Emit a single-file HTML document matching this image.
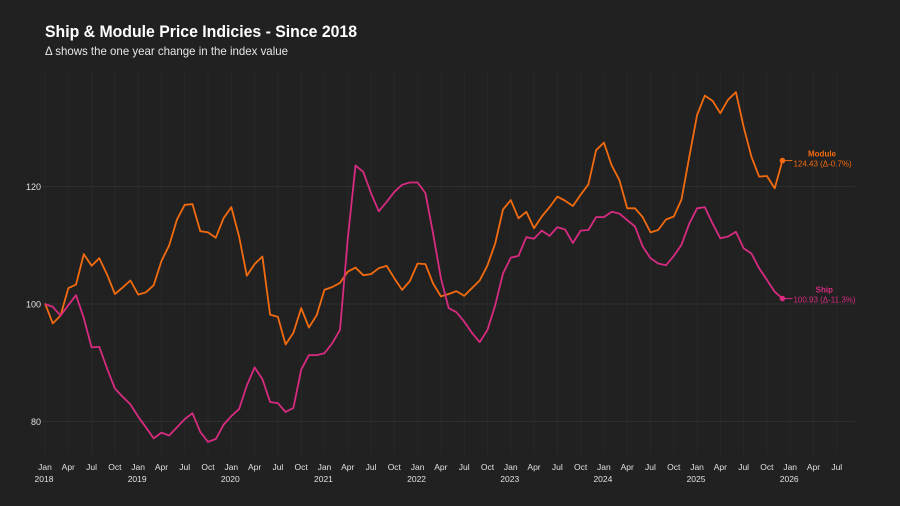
<!DOCTYPE html>
<html><head><meta charset="utf-8"><style>
html,body{margin:0;padding:0;background:#212121;}
svg{display:block;font-family:"Liberation Sans",sans-serif;}
</style></head><body>
<svg id="chart" width="900" height="506" viewBox="0 0 900 506" xmlns="http://www.w3.org/2000/svg">
<rect width="900" height="506" fill="#212121"/>
<text x="45" y="37" fill="#ffffff" font-size="17" font-weight="bold" textLength="312" lengthAdjust="spacingAndGlyphs">Ship &amp; Module Price Indicies - Since 2018</text>
<text x="45" y="55" fill="#e6e6e6" font-size="12" textLength="243" lengthAdjust="spacingAndGlyphs">Δ shows the one year change in the index value</text>
<g id="grid"></g><g id="axes"></g><g id="series"></g>
</svg>
<script>
const moduleValues=[100.1,96.7,98,102.7,103.3,108.5,106.5,107.8,105,101.7,102.8,104,101.6,102,103.2,107.3,110,114.4,116.9,117,112.4,112.2,111.3,114.6,116.5,111.5,104.8,106.8,108.1,98.2,97.8,93.1,95.1,99.3,96,98.1,102.4,
102.9,103.6,105.5,106.2,104.9,105.1,106.1,106.5,104.4,102.4,103.9,106.9,106.8,103.5,101.3,101.7,102.2,101.4,102.7,104,106.6,110.3,116.1,117.7,114.6,115.7,112.9,
114.9,116.5,118.3,117.6,116.7,118.6,120.4,126.2,127.5,123.6,121.1,116.3,116.3,114.8,112.2,112.6,114.4,114.9,117.8,125.1,132.2,135.5,134.6,132.5,134.8,136.1,130.2,125.1,121.7,121.8,119.7,124.43];
const shipValues=[100,99.5,98,99.8,101.5,97.6,92.6,92.7,89,85.6,84.2,82.9,80.8,79,77.1,78.1,77.6,79,80.4,81.4,78.2,76.5,77,79.4,80.9,82.1,86.1,89.2,87.2,83.3,83.1,81.6,82.3,88.8,91.3,91.3,91.6,
93.3,95.6,111,123.6,122.5,118.9,115.8,117.4,119.1,120.3,120.7,120.7,118.9,112,104.4,99.3,98.6,97,95.1,93.5,95.6,99.8,105.2,107.9,108.2,111.4,111.1,
112.5,111.6,113.1,112.7,110.4,112.5,112.6,114.8,114.8,115.7,115.4,114.3,113.2,109.8,107.8,106.9,106.6,108.2,110.1,113.7,116.3,116.5,113.7,111.2,111.5,112.3,109.5,108.6,106.1,104.1,102.1,100.93];
const yTicks=[80,100,120];
const quarterLabels=["Jan","Apr","Jul","Oct"];
const years=[2018,2019,2020,2021,2022,2023,2024,2025,2026];
const moduleLabel=["Module","124.43 (Δ-0.7%)"];
const shipLabel=["Ship","100.93 (Δ-11.3%)"];

const NS="http://www.w3.org/2000/svg";
const x0=45, pxPerMonth=93.15/12;
function xs(m){return x0+m*pxPerMonth;}
function ys(v){return 304-(v-100)*5.87;}
function mk(tag,attrs,parent,txt){const e=document.createElementNS(NS,tag);for(const k in attrs)e.setAttribute(k,attrs[k]);if(txt!==undefined)e.textContent=txt;parent.appendChild(e);return e;}
const grid=document.getElementById('grid'),axes=document.getElementById('axes'),series=document.getElementById('series');
for(let q=0;q<35;q++){
  const m=q*3,x=xs(m);
  const l=mk('line',{x1:x,x2:x,y1:72,y2:455,stroke:'#282828','stroke-width':1},grid);
  
  
  const t=mk('text',{x:x,y:470,fill:'#e0e0e0','font-size':8.5,'text-anchor':'middle'},axes,quarterLabels[q%4]);
  
  
}
yTicks.forEach(t=>{
  const l=mk('line',{x1:42,x2:855,y1:ys(t),y2:ys(t),stroke:'#303030','stroke-width':1},grid);
  
  
  const tx=mk('text',{x:41,y:ys(t)+3.5,fill:'#e0e0e0','font-size':9,'text-anchor':'end'},axes,String(t));
  
  
});
years.forEach((y,i)=>{
  const t=mk('text',{x:xs(i*12)-1,y:482,fill:'#e0e0e0','font-size':8.5,'text-anchor':'middle'},axes,String(y));
  
  
});
function drawSeries(vals,color,name,label,lx,ly){
  const d=vals.map((v,i)=>(i?'L':'M')+xs(i).toFixed(1)+','+ys(v).toFixed(1)).join(' ');
  const p=mk('path',{d:d,fill:'none',stroke:color,'stroke-width':1.8,'stroke-linejoin':'round'},series);
  
  
  const n=vals.length-1,ex=xs(n),ey=ys(vals[n]);
  const c=mk('line',{x1:ex,x2:ex+10,y1:ey,y2:ey,stroke:color,'stroke-width':1},series);
  
  
  const dot=mk('circle',{cx:ex,cy:ey,r:2.8,fill:color},series);
  
  
  const t1=mk('text',{x:lx,y:ey+ly,fill:color,'font-size':8,'font-weight':'bold','text-anchor':'end'},series,label[0]);
  
  
  const t2=mk('text',{x:ex+11,y:ey+ly+10,fill:color,'font-size':8},series,label[1]);
  
  
}
drawSeries(moduleValues,'#f26b10','module',moduleLabel,836,-4);
drawSeries(shipValues,'#d62b80','ship',shipLabel,833,-6);
</script>
</body></html>
